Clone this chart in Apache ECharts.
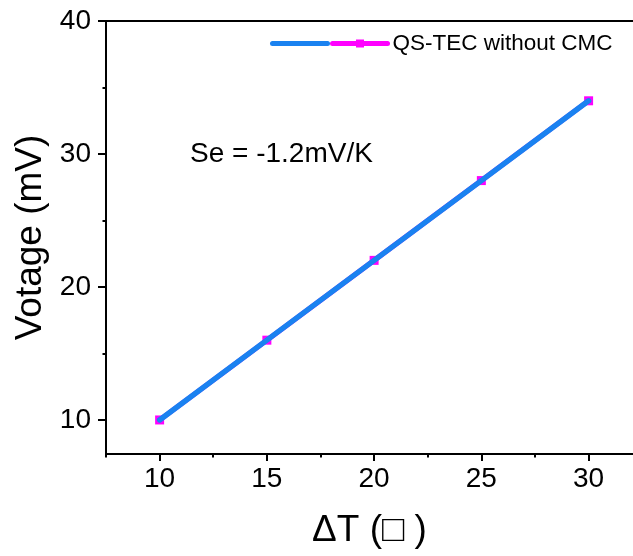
<!DOCTYPE html>
<html>
<head>
<meta charset="utf-8">
<script src="https://cdn.jsdelivr.net/npm/echarts@6/dist/echarts.min.js"></script>
<style>html,body{margin:0;padding:0;background:#fff;}#c{width:633px;height:556px;}</style>
</head>
<body>
<div id="c"></div>
<script>
const deltaT = [10, 15, 20, 25, 30];
const voltage = [10, 16, 22, 28, 34];
const fitVoltage = [10, 16, 22, 28, 34];
const xMajorTicks = [10, 15, 20, 25, 30];
const xMinorTicks = [7.5, 12.5, 17.5, 22.5, 27.5];
const yMajorTicks = [10, 20, 30, 40];
const yMinorTicks = [15, 25, 35];
const seriesName = 'QS-TEC without CMC';
const fitName = 'fit';
const annotation = 'Se = -1.2mV/K';

const FONT = '"Liberation Sans", Arial, sans-serif';
const xMin = 7.5, xMax = 32.07, yMin = 7.44, yMax = 40;

const chart = echarts.init(document.getElementById('c'), null, {renderer: 'canvas'});
const axisLineStyle = {color: '#000', width: 2};
chart.setOption({
  backgroundColor: '#fff',
  animation: false,
  grid: {left: 106, right: 0, top: 21, bottom: 102, containLabel: false},
  legend: {
    left: 270, top: 32, padding: 0, itemGap: 0,
    itemWidth: 55, itemHeight: 10,
    lineStyle: {width: 5},
    data: [{name: fitName, itemStyle: {opacity: 0}}, {name: seriesName}],
    formatter: n => n === fitName ? '' : n,
    textStyle: {fontFamily: FONT, fontSize: 22.5, color: '#000'}
  },
  graphic: [{
    type: 'text', left: 190, top: 140,
    style: {text: annotation, fontFamily: FONT, fontSize: 28, fill: '#000'}
  }],
  xAxis: [
    {type: 'value', min: xMin, max: xMax, position: 'bottom',
     name: 'ΔT (□ )', nameLocation: 'middle', nameGap: 58,
     nameTextStyle: {fontFamily: FONT, fontSize: 37, color: '#000'},
     axisLine: {show: true, onZero: false, lineStyle: axisLineStyle},
     axisTick: {show: true, customValues: xMajorTicks, length: 7, lineStyle: {color: '#000', width: 2}},
     axisLabel: {customValues: xMajorTicks, fontFamily: FONT, fontSize: 28, color: '#000', margin: 11},
     splitLine: {show: false}},
    {type: 'value', min: xMin, max: xMax, position: 'bottom',
     axisLine: {show: false},
     axisTick: {show: true, customValues: xMinorTicks, length: 3.5, lineStyle: {color: '#000', width: 2}},
     axisLabel: {show: false}, splitLine: {show: false}},
    {type: 'value', min: xMin, max: xMax, position: 'top',
     axisLine: {show: true, onZero: false, lineStyle: axisLineStyle},
     axisTick: {show: false}, axisLabel: {show: false}, splitLine: {show: false}}
  ],
  yAxis: [
    {type: 'value', min: yMin, max: yMax, position: 'left',
     name: 'Votage (mV)', nameLocation: 'middle', nameGap: 56,
     nameTextStyle: {fontFamily: FONT, fontSize: 37, color: '#000'},
     axisLine: {show: true, onZero: false, lineStyle: axisLineStyle},
     axisTick: {show: true, customValues: yMajorTicks, length: 8, lineStyle: {color: '#000', width: 2}},
     axisLabel: {customValues: yMajorTicks, fontFamily: FONT, fontSize: 28, color: '#000', margin: 15},
     splitLine: {show: false}},
    {type: 'value', min: yMin, max: yMax, position: 'left',
     axisLine: {show: false},
     axisTick: {show: true, customValues: yMinorTicks, length: 3.5, lineStyle: {color: '#000', width: 2}},
     axisLabel: {show: false}, splitLine: {show: false}}
  ],
  series: [
    {name: seriesName, type: 'line', xAxisIndex: 0, yAxisIndex: 0, z: 2,
     data: deltaT.map((x, i) => [x, voltage[i]]),
     symbol: 'rect', symbolSize: 9, showSymbol: true,
     lineStyle: {color: '#ff00ff', width: 5, cap: 'round'},
     itemStyle: {color: '#ff00ff', borderWidth: 0}},
    {name: fitName, type: 'line', xAxisIndex: 0, yAxisIndex: 0, z: 3,
     data: deltaT.map((x, i) => [x, fitVoltage[i]]),
     symbol: 'none', showSymbol: false,
     lineStyle: {color: '#1a82f0', width: 5.5, cap: 'round'},
     itemStyle: {color: '#1a82f0'}}
  ]
});
</script>
</body>
</html>
